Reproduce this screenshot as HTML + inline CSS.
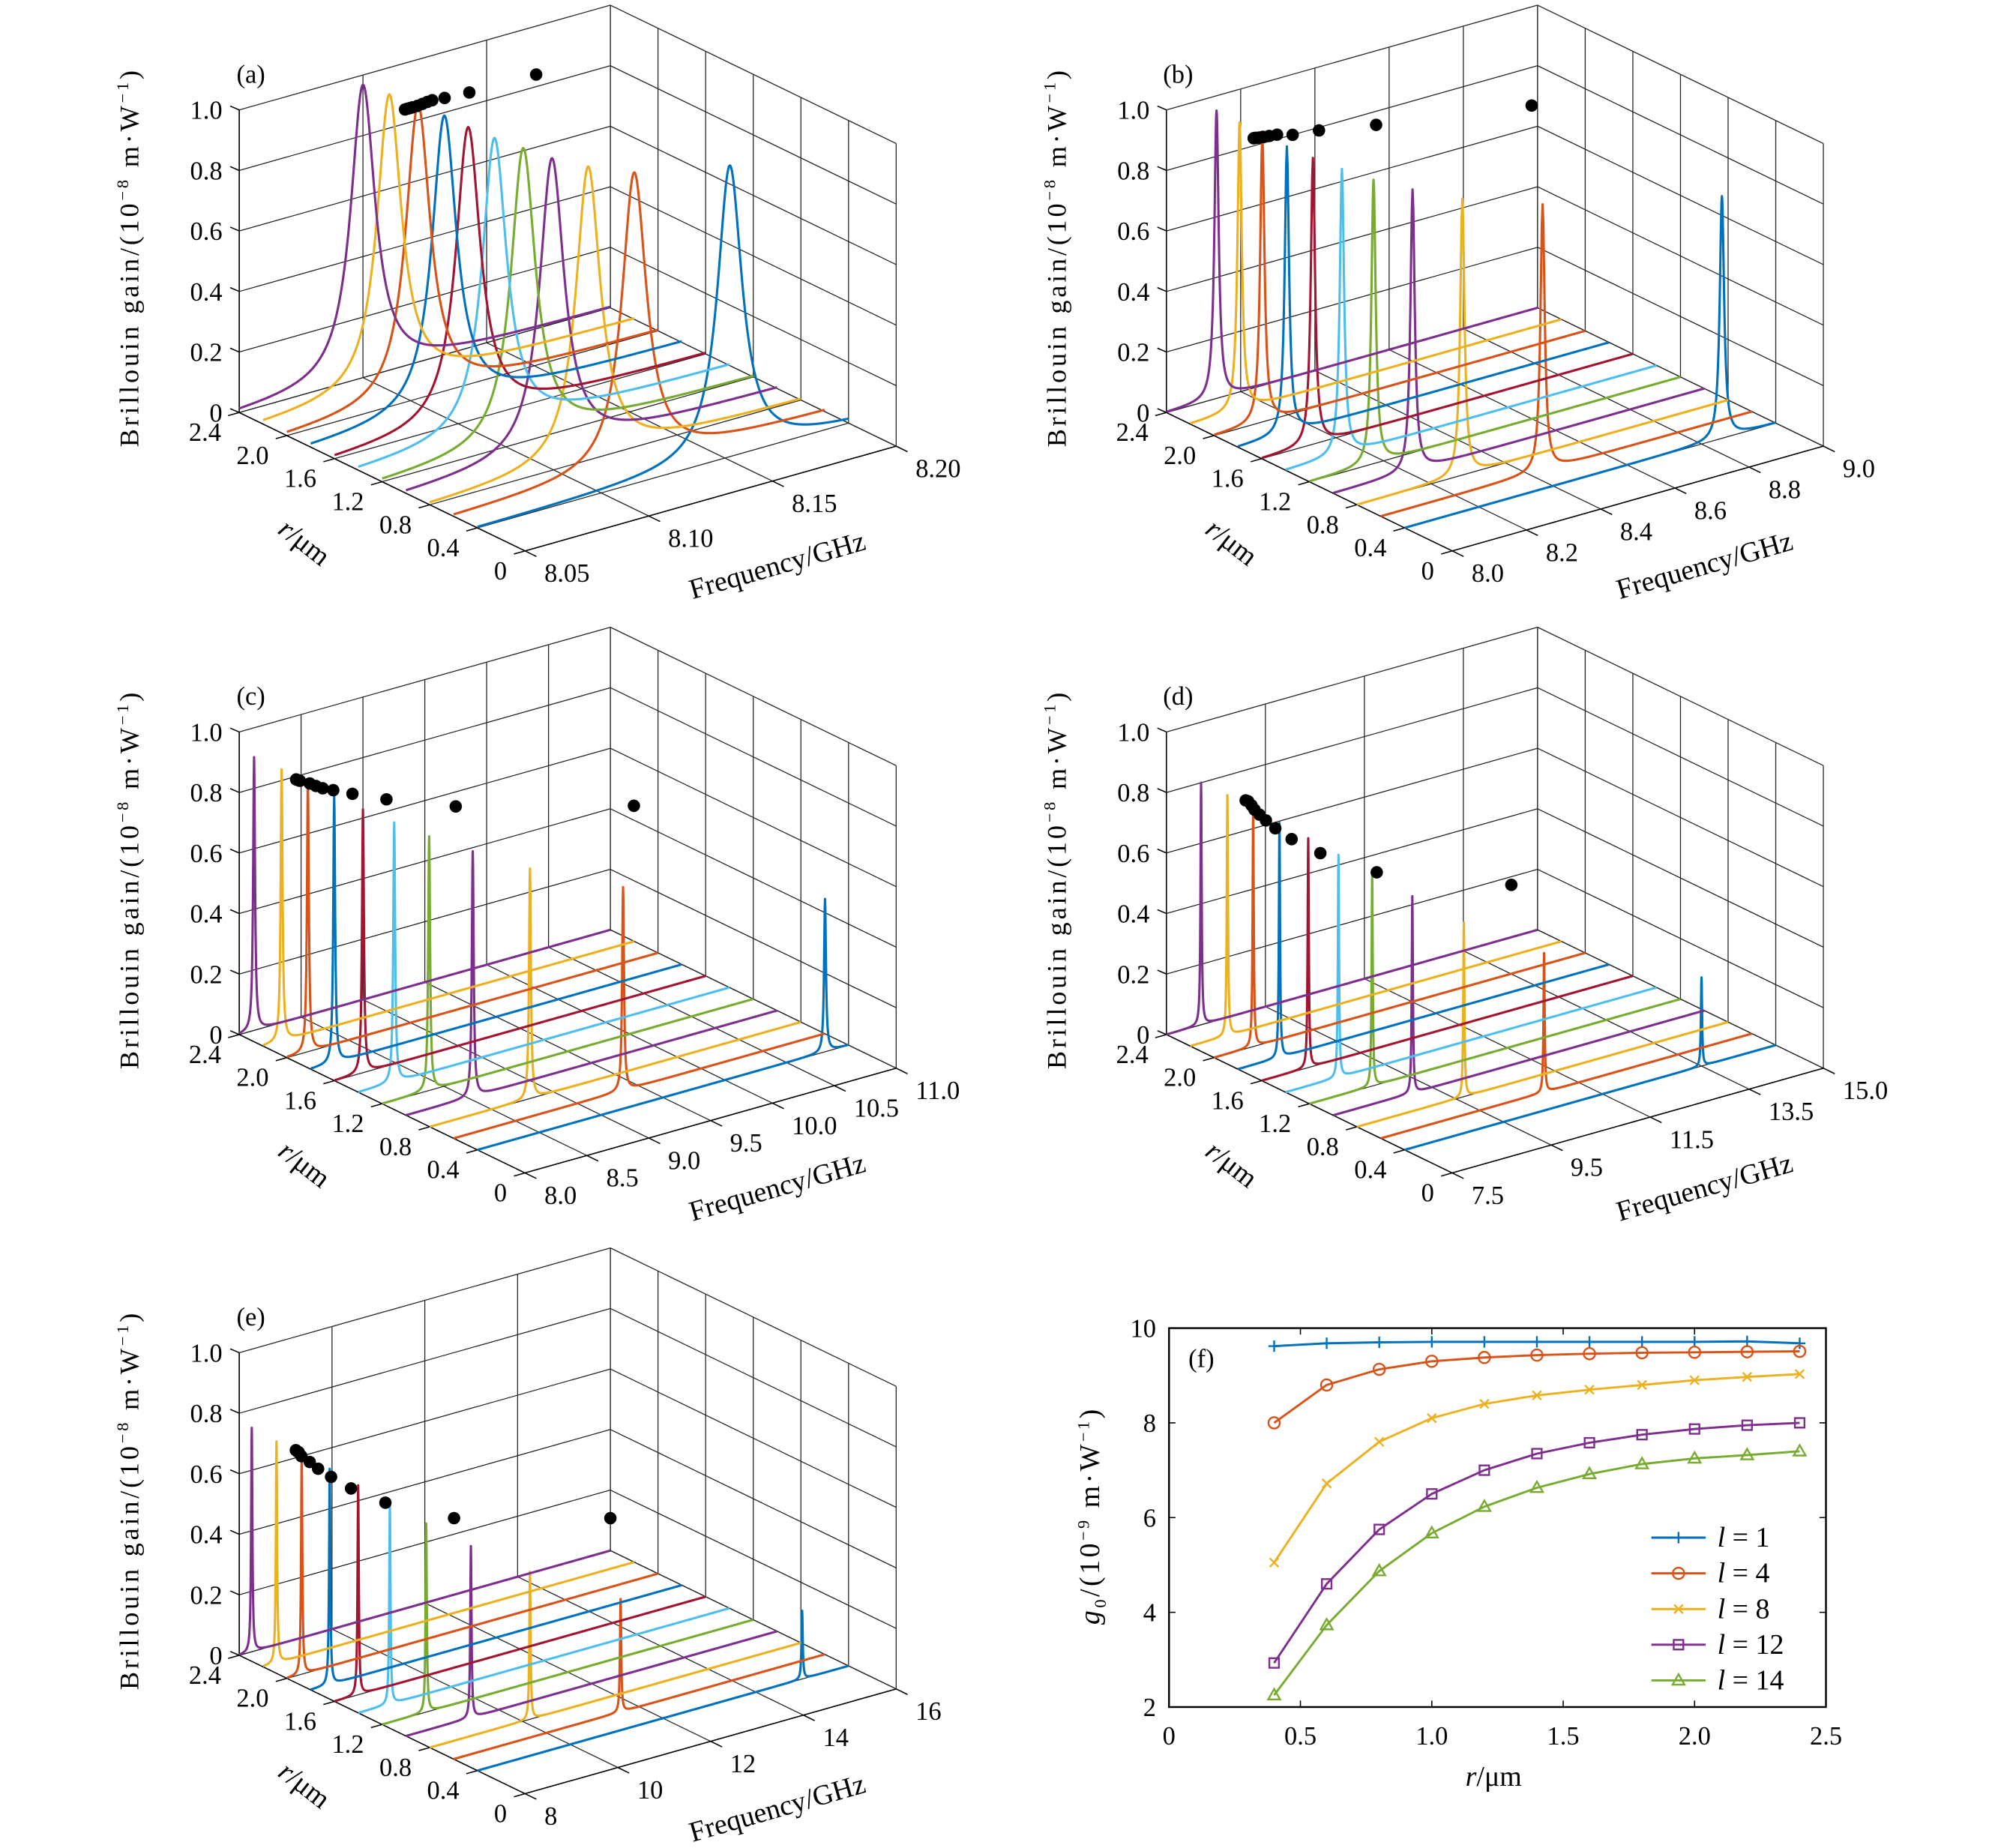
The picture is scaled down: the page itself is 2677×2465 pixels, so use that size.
<!DOCTYPE html>
<html><head><meta charset="utf-8">
<style>
html,body{margin:0;padding:0;background:#fff;}
svg{display:block;}
text{font-family:"Liberation Serif",serif;fill:#000;}
</style></head>
<body>
<svg id="fig" xmlns="http://www.w3.org/2000/svg" width="2677" height="2465" viewBox="0 0 1552 1429" preserveAspectRatio="none">
<rect x="0" y="0" width="1552" height="1429" fill="#fff"/>
</svg>
<script>
// ---------- data: panel (f) ----------
const rVals = [0.4,0.6,0.8,1.0,1.2,1.4,1.6,1.8,2.0,2.2,2.4];
const gL1  = [9.62,9.68,9.70,9.71,9.71,9.71,9.71,9.71,9.71,9.72,9.68];
const gL4  = [8.00,8.80,9.13,9.30,9.38,9.43,9.46,9.48,9.49,9.50,9.51];
const gL8  = [5.05,6.72,7.60,8.10,8.40,8.58,8.70,8.80,8.90,8.97,9.03];
const gL12 = [2.93,4.60,5.75,6.50,7.00,7.35,7.58,7.75,7.87,7.95,8.00];
const gL14 = [2.25,3.73,4.87,5.67,6.23,6.63,6.92,7.13,7.25,7.32,7.40];
const fXTicks = [0,0.5,1.0,1.5,2.0,2.5];
const fXTickLabels = ["0","0.5","1.0","1.5","2.0","2.5"];
const fYTicks = [2,4,6,8,10];
const legendLabels = ["1","4","8","12","14"];

// ---------- data: 3D panels (peak frequency per r, GHz) ----------
const peakFa = [8.152,8.123,8.114,8.109,8.107,8.105,8.104,8.104,8.103,8.101,8.100];
const peakFb = [8.855,8.436,8.284,8.214,8.173,8.152,8.138,8.132,8.130,8.133,8.135];
const peakFc = [10.81,9.37,8.81,8.54,8.38,8.29,8.23,8.19,8.17,8.15,8.12];
const peakFd = [13.5,10.8,9.66,9.10,8.77,8.57,8.44,8.34,8.29,8.25,8.20];
const peakFe = [15.0,11.6,10.16,9.40,8.95,8.68,8.51,8.41,8.32,8.29,8.27];
// black dots (frequency, gain) drawn on r = 2.4 plane
const dotFa = [8.117,8.118,8.119,8.120,8.122,8.124,8.126,8.128,8.133,8.143,8.170];
const dotZa = [0.847,0.847,0.847,0.847,0.847,0.849,0.851,0.852,0.848,0.843,0.840];
const dotFb = [8.235,8.238,8.242,8.250,8.260,8.277,8.298,8.340,8.411,8.565,8.984];
const dotZb = [0.825,0.825,0.824,0.822,0.821,0.818,0.815,0.800,0.790,0.755,0.674];
const dotFc = [8.46,8.475,8.49,8.57,8.62,8.675,8.76,8.915,9.19,9.75,11.19];
const dotZc = [0.790,0.786,0.782,0.764,0.750,0.736,0.720,0.690,0.640,0.552,0.388];
const dotFd = [9.10,9.15,9.22,9.28,9.38,9.51,9.70,10.03,10.61,11.75,14.47];
const dotZd = [0.700,0.695,0.678,0.661,0.640,0.615,0.580,0.529,0.456,0.340,0.173];
const dotFe = [9.22,9.25,9.28,9.34,9.52,9.70,9.98,10.41,11.15,12.63,16.0];
const dotZe = [0.625,0.620,0.616,0.600,0.573,0.543,0.504,0.447,0.368,0.253,0.107];
const zTicks = [0,0.2,0.4,0.6,0.8,1.0];
const zTickLabels = ["0","0.2","0.4","0.6","0.8","1.0"];
const rTicks = [0,0.4,0.8,1.2,1.6,2.0,2.4];
const rTickLabels = ["0","0.4","0.8","1.2","1.6","2.0","2.4"];
const fTicksA = [8.05,8.10,8.15,8.20];
const fTicksB = [8.0,8.2,8.4,8.6,8.8,9.0];
const fTicksC = [8.0,8.5,9.0,9.5,10.0,10.5,11.0];
const fTicksD = [7.5,9.5,11.5,13.5,15.0];
const fTicksE = [8,10,12,14,16];
const fLabA = ["8.05","8.10","8.15","8.20"];
const fLabB = ["8.0","8.2","8.4","8.6","8.8","9.0"];
const fLabC = ["8.0","8.5","9.0","9.5","10.0","10.5","11.0"];
const fLabD = ["7.5","9.5","11.5","13.5","15.0"];
const fLabE = ["8","10","12","14","16"];

const COLORS = ["#0072BD","#D95319","#EDB120","#7E2F8E","#77AC30","#4DBEEE","#A2142F"];
const NS = "http://www.w3.org/2000/svg";
const svg = document.getElementById('fig');

function mk(tag, attrs, parent){
  const e = document.createElementNS(NS, tag);
  for (const k in attrs) e.setAttribute(k, attrs[k]);
  (parent||svg).appendChild(e);
  return e;
}

const SX=221, SY=107, FX=287, FY=-81, ZS=234;

const panels = [
 {id:'a', P0:[185,319], fmin:8.05, fmax:8.20, ticks:fTicksA, labs:fLabA, peaks:peakFa, g:gL1, gam:0.006, dotF:dotFa, dotZ:dotZa},
 {id:'b', P0:[902,319], fmin:8.0, fmax:9.0, ticks:fTicksB, labs:fLabB, peaks:peakFb, g:gL4, gam:0.007, dotF:dotFb, dotZ:dotZb},
 {id:'c', P0:[185,800], fmin:8.0, fmax:11.0, ticks:fTicksC, labs:fLabC, peaks:peakFc, g:gL8, gam:0.009, dotF:dotFc, dotZ:dotZc},
 {id:'d', P0:[902,800], fmin:7.5, fmax:15.0, ticks:fTicksD, labs:fLabD, peaks:peakFd, g:gL12, gam:0.014, dotF:dotFd, dotZ:dotZd},
 {id:'e', P0:[185,1280], fmin:8, fmax:16, ticks:fTicksE, labs:fLabE, peaks:peakFe, g:gL14, gam:0.016, dotF:dotFe, dotZ:dotZe}
];

function proj(p, f, r, z){
  const d=(2.4-r)/2.4, fr=(f-p.fmin)/(p.fmax-p.fmin);
  return [p.P0[0]+SX*d+FX*fr, p.P0[1]+SY*d+FY*fr-ZS*z];
}
function line(g,a,b,stroke,w,name){
  const l = mk('line',{x1:a[0].toFixed(2),y1:a[1].toFixed(2),x2:b[0].toFixed(2),y2:b[1].toFixed(2),stroke:stroke,'stroke-width':w},g);
  
  
  return l;
}
function txt(g,x,y,s,size,anchor,name){
  const t = mk('text',{x:x,y:y,'font-size':size,'text-anchor':anchor||'start'},g);
  t.textContent = s;
  
  
  return t;
}

panels.forEach(p=>{
  const g = mk('g',{});
  
  
  const GC='#262626', GW=0.75;
  zTicks.forEach(z=>{
    line(g, proj(p,p.fmin,2.4,z), proj(p,p.fmax,2.4,z), GC, GW, 'z-gridline');
    line(g, proj(p,p.fmax,2.4,z), proj(p,p.fmax,0,z), GC, GW, 'z-gridline');
  });
  p.ticks.forEach(f=>{
    line(g, proj(p,f,2.4,0), proj(p,f,2.4,1), GC, GW, 'f-gridline');
    line(g, proj(p,f,2.4,0), proj(p,f,0,0), GC, GW, 'f-gridline');
  });
  rTicks.forEach(r=>{
    line(g, proj(p,p.fmax,r,0), proj(p,p.fmax,r,1), GC, GW, 'r-gridline');
    line(g, proj(p,p.fmin,r,0), proj(p,p.fmax,r,0), GC, GW, 'r-gridline');
  });
  line(g, proj(p,p.fmin,2.4,0), proj(p,p.fmin,2.4,1), '#000', 0.9, 'z-axis');
  line(g, proj(p,p.fmin,2.4,0), proj(p,p.fmin,0,0), '#000', 0.9, 'r-axis');
  line(g, proj(p,p.fmin,0,0), proj(p,p.fmax,0,0), '#000', 0.9, 'f-axis');
  zTicks.forEach((z,i)=>{
    const a=proj(p,p.fmin,2.4,z);
    line(g,a,[a[0]-7,a[1]-3],'#000',0.9,'z-tick');
    txt(g,a[0]-13,a[1]+7,zTickLabels[i],20,'end','z-tick-label');
  });
  rTicks.forEach((r,i)=>{
    const a=proj(p,p.fmin,r,0);
    line(g,a,[a[0]-8.6,a[1]+2.4],'#000',0.9,'r-tick');
    txt(g,a[0]-14,a[1]+22,rTickLabels[i],20,'end','r-tick-label');
  });
  p.ticks.forEach((f,i)=>{
    const a=proj(p,f,0,0);
    line(g,a,[a[0]+8.8,a[1]+4.3],'#000',0.9,'f-tick');
    txt(g,a[0]+15,a[1]+24,p.labs[i],20,'start','f-tick-label');
  });
  rVals.forEach((r,i)=>{
    const f0=p.peaks[i], A=p.g[i]/10, gm=p.gam;
    let fs=[];
    for(let k=0;k<=500;k++) fs.push(p.fmin+(p.fmax-p.fmin)*k/500);
    for(let k=-150;k<=150;k++){ const f=f0+gm*40*k/150; if(f>p.fmin&&f<p.fmax) fs.push(f); }
    fs.push(f0);
    fs.sort((a,b)=>a-b);
    let d='';
    fs.forEach((f,j)=>{
      const z=A/(1+Math.pow((f-f0)/gm,2));
      const q=proj(p,f,r,z);
      d+=(j?'L':'M')+q[0].toFixed(2)+' '+q[1].toFixed(2);
    });
    const path = mk('path',{d:d,fill:'none',stroke:COLORS[i%7],'stroke-width':1.8,'stroke-linejoin':'round'},g);
    
    
  });
  p.dotF.forEach((f,i)=>{
    const q=proj(p,f,2.4,p.dotZ[i]);
    const c = mk('circle',{cx:q[0].toFixed(2),cy:q[1].toFixed(2),r:4.8,fill:'#000'},g);
    
    
  });
  const P0=p.P0;
  txt(g,P0[0]+9,P0[1]-255,'('+p.id+')',20,'middle','panel-label');
  const yl = mk('text',{x:0,y:0,'font-size':21,'text-anchor':'middle','letter-spacing':'2.2',transform:`translate(${P0[0]-78},${P0[1]-120}) rotate(-90)`},g);
  
  
  yl.innerHTML = 'Brillouin gain/(10<tspan dy="-8" font-size="13">−8</tspan><tspan dy="8"> m·W</tspan><tspan dy="-8" font-size="13">−1</tspan><tspan dy="8">)</tspan>';
  const fl = mk('text',{x:0,y:0,'font-size':22,'text-anchor':'middle',transform:`translate(${P0[0]+418},${P0[1]+125}) rotate(-16)`},g);
  
  
  fl.textContent = 'Frequency/GHz';
  const rl = mk('text',{x:0,y:0,'font-size':22,'text-anchor':'middle',transform:`translate(${P0[0]+46},${P0[1]+106}) rotate(38)`},g);
  
  
  rl.innerHTML = '<tspan font-style="italic">r</tspan>/μm';
});

// ---------- panel (f) ----------
(function(){
  const g = mk('g',{});
  
  
  const L=904, R=1412, T=1027, B=1320;
  const xs = v => L + (v-0)/(2.5-0)*(R-L);
  const ys = v => B - (v-2)/(10-2)*(B-T);
  const box = mk('rect',{x:L,y:T,width:R-L,height:B-T,fill:'none',stroke:'#000','stroke-width':1.4},g);
  
  
  fXTicks.forEach((v,i)=>{
    line(g,[xs(v),B],[xs(v),B-5],'#000',0.9,'x-tick');
    line(g,[xs(v),T],[xs(v),T+5],'#000',0.9,'x-tick');
    txt(g,xs(v),B+29,fXTickLabels[i],20,'middle','x-tick-label');
  });
  fYTicks.forEach(v=>{
    line(g,[L,ys(v)],[L+5,ys(v)],'#000',0.9,'y-tick');
    line(g,[R,ys(v)],[R-5,ys(v)],'#000',0.9,'y-tick');
    txt(g,L-10,ys(v)+7,String(v),20,'end','y-tick-label');
  });
  const xt = mk('text',{x:1155,y:1381,'font-size':22,'text-anchor':'middle'},g);
  
  
  xt.innerHTML = '<tspan font-style="italic">r</tspan>/μm';
  const yt = mk('text',{x:0,y:0,'font-size':22,'text-anchor':'middle','letter-spacing':'2',transform:'translate(850,1172) rotate(-90)'},g);
  
  
  yt.innerHTML = '<tspan font-style="italic">g</tspan><tspan dy="5" font-size="13">0</tspan><tspan dy="-5">/(10</tspan><tspan dy="-8" font-size="13">−9</tspan><tspan dy="8"> m·W</tspan><tspan dy="-8" font-size="13">−1</tspan><tspan dy="8">)</tspan>';
  txt(g,929,1057,'(f)',20,'middle','panel-label');

  const series = [gL1,gL4,gL8,gL12,gL14];
  const marks = ['plus','circle','x','square','triangle'];
  function marker(gg,kind,x,y,c){
    let e;
    const s=4.4;
    if(kind==='plus') e=mk('path',{d:`M${x-s} ${y}H${x+s}M${x} ${y-s}V${y+s}`,stroke:c,'stroke-width':1.4,fill:'none'},gg);
    else if(kind==='circle') e=mk('circle',{cx:x,cy:y,r:s,stroke:c,'stroke-width':1.4,fill:'none'},gg);
    else if(kind==='x') e=mk('path',{d:`M${x-3.4} ${y-3.4}L${x+3.4} ${y+3.4}M${x-3.4} ${y+3.4}L${x+3.4} ${y-3.4}`,stroke:c,'stroke-width':1.4,fill:'none'},gg);
    else if(kind==='square') e=mk('rect',{x:x-3.7,y:y-3.7,width:7.4,height:7.4,stroke:c,'stroke-width':1.4,fill:'none'},gg);
    else e=mk('path',{d:`M${x} ${y-4.8}L${x+4.6} ${y+3.3}L${x-4.6} ${y+3.3}Z`,stroke:c,'stroke-width':1.4,fill:'none'},gg);
    
    
  }
  series.forEach((ser,si)=>{
    const c=COLORS[si];
    let d='';
    ser.forEach((v,i)=>{ d+=(i?'L':'M')+xs(rVals[i]).toFixed(2)+' '+ys(v).toFixed(2); });
    const pth = mk('path',{d:d,fill:'none',stroke:c,'stroke-width':1.7},g);
    
    
    ser.forEach((v,i)=>marker(g,marks[si],xs(rVals[i]),ys(v),c));
    const ly = 1189 + si*27.6;
    line(g,[1277,ly],[1319,ly],c,1.7,'legend-line');
    marker(g,marks[si],1298,ly,c);
    const lt = mk('text',{x:1328,y:ly+7,'font-size':22},g);
    
    
    lt.innerHTML = '<tspan font-style="italic">l</tspan> = '+legendLabels[si];
  });
})();
</script>
</body></html>
